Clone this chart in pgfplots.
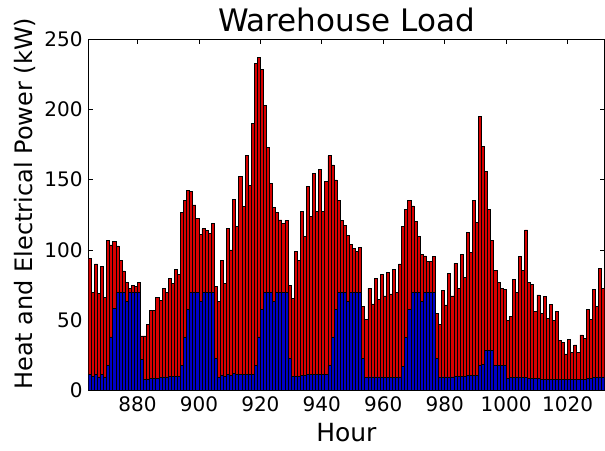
\documentclass[border=0pt]{standalone}
\usepackage{fontspec}
\setmainfont{DejaVu Sans}
\usepackage{pgfplots}
\usepackage{pgfplotstable}
\pgfplotsset{compat=1.18}

% Hourly warehouse load: electrical part (elec) and heat part (heat), kW
\pgfplotstableread{
hour elec heat
864 11 83
865 10 60
866 11 79
867 9.5 59.5
868 11 77
869 9.5 56.5
870 17.5 89.1
871 38 65.5
872 58 48
873 69.5 33.3
874 69.5 23
875 69.5 15.5
876 63.5 13
877 69.5 3.1
878 69.5 5.5
879 69.5 4.5
880 69.5 7
881 22 16.7
882 8 30.7
883 8 39
884 8.3 48.7
885 8.5 48.5
886 8.5 57.5
887 9 54.7
888 9.5 63
889 9.5 60.5
890 9.7 69.8
891 9.7 66.3
892 10 76
893 10 72.5
894 17.5 109
895 38 97.5
896 57.7 84.5
897 69.5 72
898 69.5 62.5
899 69.5 53
900 63 48
901 69.5 45.5
902 69.5 44.2
903 69.5 42.5
904 69.5 49.5
905 22.8 51
906 9.3 53.7
907 10.9 81.9
908 10 66
909 11.4 104
910 10.4 89.6
911 11.9 124.1
912 11 106
913 11 141.6
914 11 119.8
915 11 156
916 11 135
917 11 179
918 18 214.5
919 38 199
920 57.5 171.1
921 69.5 133.2
922 69.5 103.3
923 69.5 77.9
924 63 67.3
925 69.5 57
926 69.5 51.8
927 69.5 49.5
928 69.5 51.3
929 22.8 52.2
930 9.7 55.8
931 10 89.2
932 10 82.8
933 10.5 117.2
934 10.5 98.9
935 11 134
936 11.5 112.5
937 11.5 143
938 11.5 115.7
939 11.5 145.5
940 11.5 115.7
941 11.5 137.1
942 18 149
943 38 122.5
944 57.7 92.1
945 69.5 66
946 69.5 51.3
947 69.5 48.2
948 63 47.6
949 69.5 34.7
950 69.5 31.5
951 69.5 29.2
952 69.5 32.1
953 22.8 36.7
954 9 41.6
955 9.5 63.1
956 9.5 52
957 9.5 70.3
958 9.5 55.3
959 9.5 73.3
960 9.2 58
961 9.2 74.6
962 9.2 59.4
963 9.2 77
964 9.2 60.3
965 9.5 80.5
966 17.3 99.7
967 37.5 91.5
968 57.7 77.3
969 69.5 61.8
970 69.5 50.5
971 69.5 39.9
972 63 34
973 69.5 26.2
974 69.5 22.5
975 69.5 22.1
976 69.5 25.7
977 22.8 32
978 9 38
979 9.5 61.5
980 9.5 51.3
981 9.5 73.8
982 9.5 57.7
983 10 80.4
984 10 62.6
985 10 87
986 10 70.5
987 10.5 102
988 10.5 87.5
989 10.5 125
990 10.5 109.1
991 18 177
992 18.5 155
993 28.7 127
994 28.7 100.3
995 28.7 77.8
996 17.5 68
997 17.5 59.2
998 17.5 55.1
999 17.5 54.5
1000 8.5 41.5
1001 9 43.4
1002 9 70
1003 9.5 60
1004 9 86.2
1005 9 76.2
1006 9 105.2
1007 8.5 68.5
1008 8.5 67.2
1009 8.5 47.5
1010 8.5 59.4
1011 8 46.8
1012 8 58.7
1013 8 43.3
1014 8 53.2
1015 8 41.6
1016 8 48
1017 7.5 27.8
1018 7.5 26.4
1019 7.5 18.4
1020 7.5 28.8
1021 7.5 19.3
1022 7.5 24.8
1023 7.5 19.3
1024 7.8 31.6
1025 8 29
1026 8.5 49.2
1027 8.5 42.1
1028 9 62.9
1029 9 50.5
1030 9.5 77.4
1031 9.5 63.1
}\loadtable

\definecolor{heatred}{RGB}{215,0,0}
\definecolor{elecblue}{RGB}{0,0,200}

\begin{document}
\begin{tikzpicture}
\useasboundingbox (-88.3pt,-59.7pt) rectangle (516.7pt,390.3pt);
\begin{axis}[
  at={(0pt,0pt)}, anchor=south west,
  scale only axis, width=516.2pt, height=351pt,
  xmin=864, xmax=1032, ymin=0, ymax=250,
  ybar stacked, bar width=1,
  xtick={880,900,...,1020}, ytick={0,50,...,250},
  tick align=inside, xtick pos=both, ytick pos=both,
  major tick length=5pt,
  axis line style={black, line width=1pt},
  tick style={black, line width=0.8pt},
  /pgf/number format/assume math mode=true,
  /pgf/number format/1000 sep={},
  tick label style={font=\fontsize{20}{24}\selectfont},
  xticklabel style={anchor=base, yshift=-21.4pt},
  yticklabel style={anchor=east, inner sep=0pt, xshift=-5.5pt},
  title={Warehouse Load},
  title style={font=\fontsize{31}{36}\selectfont, at={(axis description cs:0.5,1)}, anchor=base, yshift=2pt},
  xlabel={Hour},
  xlabel style={font=\fontsize{25}{30}\selectfont, at={(axis description cs:0.5,0)}, anchor=base, yshift=-51.4pt},
  ylabel={Heat and Electrical Power (kW)},
  ylabel style={font=\fontsize{24}{29}\selectfont, at={([xshift=-55.3pt,yshift=11pt]axis description cs:0,0.5)}, anchor=base},
]
\addplot[fill=elecblue, draw=black, line width=0.8pt] table[x expr=\thisrow{hour}+0.5, y=elec] {\loadtable};
\addplot[fill=heatred, draw=black, line width=0.8pt] table[x expr=\thisrow{hour}+0.5, y=heat] {\loadtable};
\end{axis}
\end{tikzpicture}
\end{document}
